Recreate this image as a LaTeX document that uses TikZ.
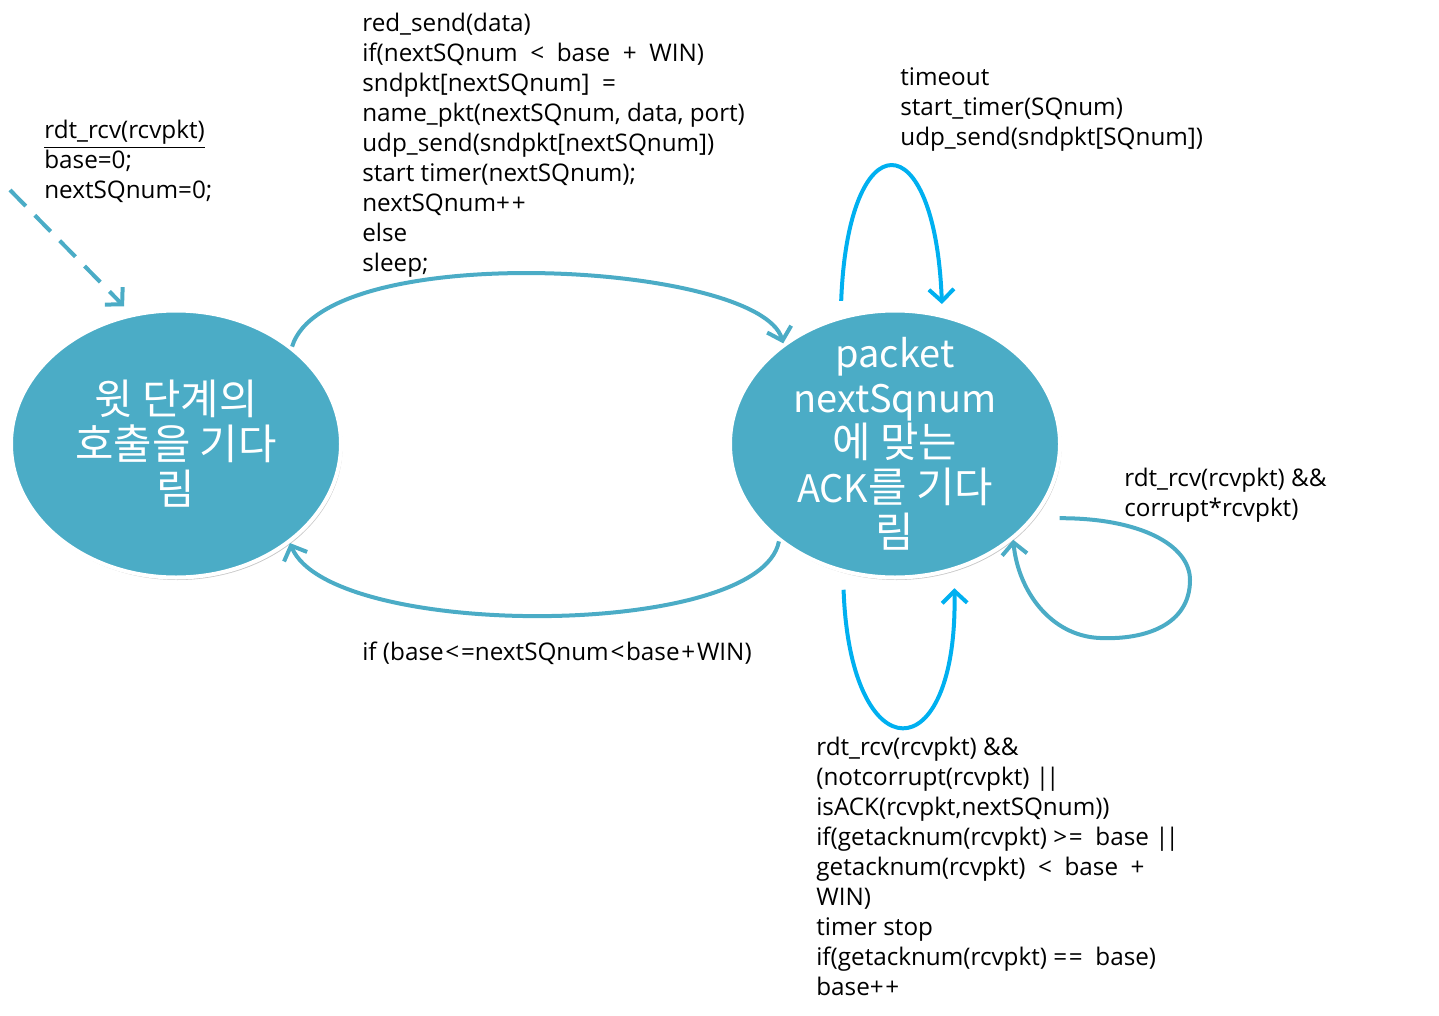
\documentclass[tikz,border=0pt]{standalone}
\usepackage{fontspec}
\setmainfont{Open Sans}
\newfontfamily\krfont{Noto Sans CJK KR}
\newfontfamily\hangul[Scale=1.1]{Noto Sans CJK KR}
\usepackage{tikz}
\usetikzlibrary{arrows.meta,positioning,shapes.geometric,shadows}
\definecolor{stateFill}{HTML}{4BACC6}
\definecolor{arcMain}{HTML}{4BACC6}
\definecolor{arcLoop}{HTML}{00B0F0}
\tikzset{
  statebox/.style={ellipse, draw=white, line width=0.8mm, fill=stateFill,
    minimum width=66mm, minimum height=53.4mm, inner sep=0pt,
    drop shadow={shadow xshift=0.3mm, shadow yshift=-0.5mm, opacity=0.22, fill=black}},
  statetext/.style={text=white, align=center, inner sep=0pt,
    font=\krfont\fontsize{21.6}{25.6}\selectfont},
  guardtext/.style={anchor=north west, align=left, inner sep=0pt,
    font=\fontsize{13.8}{17.07}\selectfont},
  arc/.style={-{Straight Barb[length=2.4mm,width=5mm]}, line width=0.8mm},
  mainArc/.style={arc, draw=arcMain},
  loopArc/.style={arc, draw=arcLoop},
  initArc/.style={mainArc, dash pattern=on 4.5mm off 2.6mm},
}
\newcommand{\opgap}{\kern0.35mm}

\begin{document}
\begin{tikzpicture}[x=0.2mm, y=-0.2mm]
    \useasboundingbox (0,0) rectangle (1439,1016);
    \node[statebox, label={[statetext]center:{{\hangul 윗 단계의}\\{\hangul 호출을 기다}\\{\hangul 림}}}] (call) at (176,444) {};
    \node[statebox, label={[statetext]center:{packet\\nextSqnum\\{\hangul 에 맞는}\\ACK{\hangul 를 기다}\\{\hangul 림}}}] (ack) at (895,444) {};
    \coordinate (init) at (10,190);
    \node[guardtext] (initLabel) at (44,120) {\underline{rdt\_rcv(rcvpkt)}\\base=0;\\nextSQnum=0;};
    \node[guardtext] (sendLabel) at (362,13) {red\_send(data)\\if(nextSQnum \ < \ base \ + \ WIN)\\sndpkt[nextSQnum] \ =\\name\_pkt(nextSQnum, data, port)\\udp\_send(sndpkt[nextSQnum])\\start timer(nextSQnum);\\nextSQnum+\opgap+\\else\\sleep;};
    \node[guardtext] (timeoutLabel) at (900,67) {timeout\\start\_timer(SQnum)\\udp\_send(sndpkt[SQnum])};
    \node[guardtext] (corruptLabel) at (1124,468) {rdt\_rcv(rcvpkt) \&\&\\corrupt*rcvpkt)};
    \node[guardtext] (windowLabel) at (362,642) {if (base\opgap<\opgap=nextSQnum\opgap<\opgap base\opgap+\opgap WIN)};
    \node[guardtext] (ackLabel) at (816,737) {rdt\_rcv(rcvpkt) \&\&\\(notcorrupt(rcvpkt) |\kern-0.6mm|\\isACK(rcvpkt,nextSQnum))\\if(getacknum(rcvpkt) >\opgap= \ base |\kern-0.6mm|\\getacknum(rcvpkt) \ < \ base \ +\\WIN)\\timer stop\\if(getacknum(rcvpkt) =\opgap= \ base)\\base+\opgap+};
    \draw[initArc, shorten >=2mm] (init) -- (call.109);
    \draw[mainArc] (call.40) .. controls (325,238) and (760,262) .. (ack.138);
    \draw[mainArc] (ack.220) .. controls (760,640) and (330,640) .. (call.-41);
    \draw[loopArc, shorten <=3mm, shorten >=2mm] (ack.113) .. controls (848,120) and (935,120) .. (ack.70);
    \draw[loopArc, shorten <=3.4mm, shorten >=3.5mm] (ack.-112) .. controls (850,774) and (958,774) .. (ack.-65);
    \draw[mainArc, shorten <=5mm] (ack.-28) .. controls (1140,518) and (1190,545) .. (1190,580) .. controls (1190,625) and (1145,640) .. (1100,638) .. controls (1050,636) and (1018,590) .. (ack.-39);
\end{tikzpicture}
\end{document}
